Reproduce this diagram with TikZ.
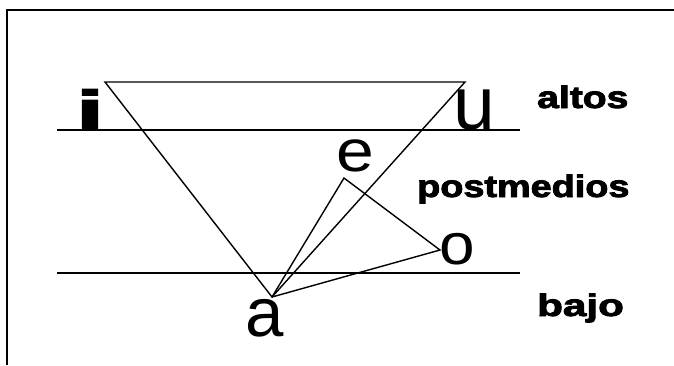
\documentclass[tikz,border=0pt]{standalone}
\usepackage{fontspec}
\setmainfont{Liberation Sans}
\newfontfamily\heavyfont[FakeBold=2.5]{Liberation Sans Bold}
\begin{document}
\begin{tikzpicture}[x=1pt,y=-1pt,
  vline/.style={line width=1.4pt,black},
  framel/.style={line width=2pt,black},
  vowel/.style={inner sep=0pt,anchor=base},
  lab/.style={inner sep=0pt,anchor=base west,font=\fontsize{31}{31}\heavyfont}]
\useasboundingbox (0,0) rectangle (674,365);
% frame
\coordinate (f1) at (7,365);
\coordinate (f2) at (7,10);
\coordinate (f3) at (674,10);
\draw[framel] (f1) -- (f2) -- (f3);
% level lines
\coordinate (h1l) at (57,130);
\coordinate (h1r) at (520,130);
\coordinate (h2l) at (57,273);
\coordinate (h2r) at (520,273);
\draw[vline] (h1l) -- (h1r);
\draw[vline] (h2l) -- (h2r);
% vertices
\coordinate (vi) at (105,82);
\coordinate (vu) at (465,82);
\coordinate (va) at (272,297);
\coordinate (ve) at (344,178);
\coordinate (vo) at (440,250);
\draw[vline,line join=miter] (vi) -- (vu) -- (va) -- cycle;
\draw[vline] (va) -- (ve) -- (vo) -- (va);
% vowels
\node[vowel,font=\fontsize{56}{56}\heavyfont] (ti) at (90,130) {\scalebox{1.8}[1]{i}};
\node[vowel,font=\fontsize{75}{75}\selectfont] (tu) at (474,129) {u};
\node[vowel,font=\fontsize{69}{69}\selectfont] (ta) at (265,336) {a};
\node[vowel,font=\fontsize{59}{59}\selectfont] (te) at (355,171) {\scalebox{1.15}[1]{e}};
\node[vowel,font=\fontsize{58}{58}\selectfont] (to) at (457,264) {\scalebox{1.1}[1]{o}};
% labels
\node[lab] (lalt) at (537,108) {\scalebox{1.26}[1]{altos}};
\node[lab] (lpost) at (417,197) {\scalebox{1.22}[1]{postmedios}};
\node[lab] (lbajo) at (537,316) {\scalebox{1.36}[1]{bajo}};
\end{tikzpicture}
\end{document}
